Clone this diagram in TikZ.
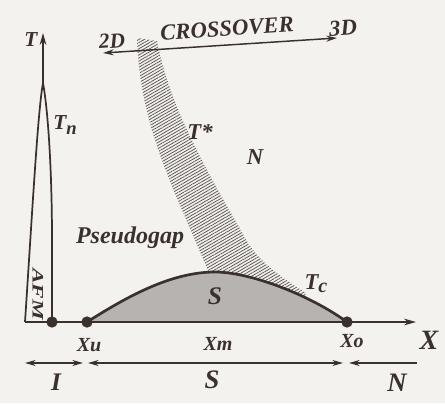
\documentclass[tikz,border=0pt]{standalone}
\usepackage{fontspec}
\setmainfont{Liberation Serif}
\usetikzlibrary{arrows.meta,patterns.meta}
\definecolor{ink}{HTML}{3A302C}
\definecolor{bg}{HTML}{F4F2EF}
\definecolor{domefill}{HTML}{B6B3B1}
\definecolor{hatch}{HTML}{5E5856}
\newcommand\lblsz[1]{\fontsize{#1pt}{#1pt}\selectfont\bfseries\itshape}
\begin{document}
\begin{tikzpicture}[x=0.75pt,y=-0.75pt,
  lbl/.style={text=ink, inner sep=0pt},
  axisline/.style={draw=ink, line width=1.4pt},
  thinarrow/.style={draw=ink, line width=1.1pt},
  axtip/.style={-{Stealth[length=9pt,width=5pt]}},
  twotip/.style={{Stealth[length=8pt,width=4.5pt]}-{Stealth[length=8pt,width=4.5pt]}},
  lefttip/.style={{Stealth[length=8pt,width=4.5pt]}-},
  dot/.style={circle, fill=ink, minimum size=8.5pt, inner sep=0pt}]
\fill[bg] (0,0) rectangle (445,403);
\useasboundingbox (0,0) rectangle (445,403);

% hatched T* band
\path[pattern={Lines[angle=30,distance=2pt,line width=0.6pt]}, pattern color=hatch]
  (137,38) .. controls (140,130) and (175,190) .. (214,285)
  -- (300,305) -- (306,293)
  .. controls (285,280) and (258,262) .. (245,238)
  .. controls (225,200) and (172,120) .. (157,41)
  -- cycle;

% superconducting dome
\fill[domefill] (87,322) .. controls (125,298) and (170,272) .. (215,272)
  .. controls (250,272) and (310,295) .. (347,322) -- cycle;
\draw[ink, line width=2pt] (87,322) .. controls (125,298) and (170,272) .. (215,272)
  .. controls (250,272) and (310,295) .. (347,322);

% AFM spike (T_n)
\coordinate (apex) at (43,83);
\coordinate (afmL) at (25,322);
\coordinate (afmR) at (52,322);
\draw[ink, line width=1.3pt] (afmL) .. controls (33,200) and (38,110) .. (apex)
  .. controls (48,110) and (52,170) .. (52,240) -- (afmR);

% axes
\coordinate (ttop) at (43,33);
\coordinate (xstart) at (25,322);
\coordinate (xend) at (416,322);
\draw[axisline, axtip] (apex) -- (ttop);
\draw[axisline, axtip] (xstart) -- (xend);

% dots
\node[dot] (O) at (52,322) {};
\node[dot] (Xu) at (87,322) {};
\node[dot] (Xo) at (347,322) {};

% crossover arrow
\coordinate (c2d) at (103,53);
\coordinate (c3d) at (337,38);
\draw[thinarrow, twotip] (c2d) -- (c3d);

% bottom range arrows
\coordinate (iL) at (25,363);
\coordinate (iR) at (83,363);
\coordinate (sL) at (88,363);
\coordinate (sR) at (343,363);
\coordinate (nL) at (349,363);
\coordinate (nR) at (417,363);
\draw[thinarrow, twotip] (iL) -- (iR);
\draw[thinarrow, twotip] (sL) -- (sR);
\draw[thinarrow, lefttip] (nL) -- (nR);

% labels
\node[lbl, font=\lblsz{16}] (lT) at (31,40) {T};
\node[lbl, font=\lblsz{16}] (lTn) at (65,125) {T\raisebox{-4pt}{\lblsz{14}n}};
\node[lbl, font=\lblsz{17}] (lTs) at (200,132) {T*};
\node[lbl, font=\lblsz{17}] (lNtop) at (255,157) {N};
\node[lbl, font=\lblsz{18}] (lPg) at (130,238) {Pseudogap};
\node[lbl, font=\lblsz{12}, rotate=-90] (lAFM) at (38,294) {\scalebox{1.45}[1]{AFM}};
\node[lbl, font=\lblsz{19}] (lSd) at (215,296) {S};
\node[lbl, font=\lblsz{17}] (lTc) at (316,284) {T\raisebox{-2pt}{\lblsz{15}c}};
\node[lbl, font=\lblsz{15}] (lXu) at (89,345) {Xu};
\node[lbl, font=\lblsz{15}] (lXm) at (218,344) {Xm};
\node[lbl, font=\lblsz{15}] (lXo) at (352,341) {Xo};
\node[lbl, font=\lblsz{21}] (lX) at (429,340) {X};
\node[lbl, font=\lblsz{19}] (lI) at (56,382) {I};
\node[lbl, font=\lblsz{20}] (lS) at (212,380) {S};
\node[lbl, font=\lblsz{20}] (lN) at (397,383) {N};
\node[lbl, font=\lblsz{16}, rotate=4] (l2D) at (112,41) {2D};
\node[lbl, font=\lblsz{17}, rotate=4] (lCross) at (227,29) {CROSSOVER};
\node[lbl, font=\lblsz{17}, rotate=4] (l3D) at (343,28) {3D};
\end{tikzpicture}
\end{document}
